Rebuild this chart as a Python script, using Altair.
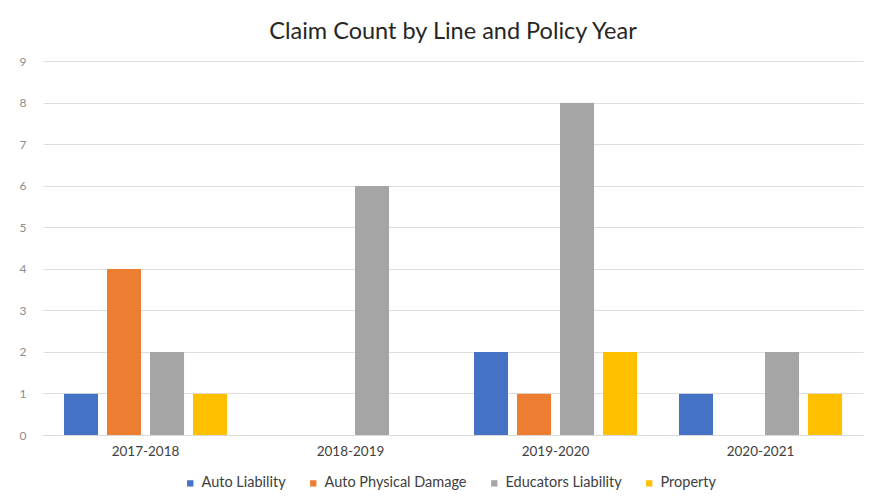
import altair as alt
import pandas as pd

years = ["2017-2018", "2018-2019", "2019-2020", "2020-2021"]
lines = ["Auto Liability", "Auto Physical Damage", "Educators Liability", "Property"]
auto_liability = [1, 0, 2, 1]
auto_physical_damage = [4, 0, 1, 0]
educators_liability = [2, 6, 8, 2]
property_ = [1, 0, 2, 1]
colors = ["#4472C4", "#ED7D31", "#A5A5A5", "#FFC000"]

series = [auto_liability, auto_physical_damage, educators_liability, property_]
rows = []
for line, vals in zip(lines, series):
    for y, v in zip(years, vals):
        rows.append({"Year": y, "Line": line, "Count": v})
df = pd.DataFrame(rows)

FONT = "Lato"

chart = alt.Chart(df).mark_bar(cornerRadius=1).encode(
    x=alt.X("Year:N", sort=years, title=None,
            scale=alt.Scale(paddingInner=0.16, paddingOuter=0.08),
            axis=alt.Axis(labelAngle=0, labelFontSize=13.5, labelColor="#404040",
                          labelFont=FONT, ticks=False, domainColor="#d9d9d9",
                          labelPadding=9, grid=False)),
    xOffset=alt.XOffset("Line:N", sort=lines,
                        scale=alt.Scale(paddingInner=0.2, paddingOuter=0.1)),
    y=alt.Y("Count:Q", title=None,
            scale=alt.Scale(domain=[0, 9], nice=False),
            axis=alt.Axis(values=list(range(10)), labelFontSize=12, labelColor="#8c8c8c",
                          labelFont=FONT, ticks=False, domain=False,
                          gridColor="#dedede", labelPadding=17)),
    color=alt.Color("Line:N", sort=lines, title=None,
                    scale=alt.Scale(domain=lines, range=colors),
                    legend=alt.Legend(orient="none", direction="horizontal",
                                      legendX=140, legendY=415,
                                      symbolType="square", symbolSize=40,
                                      labelFontSize=14.5, labelFont=FONT,
                                      labelColor="#404040", columnPadding=20,
                                      symbolOffset=0, labelOffset=4)),
).properties(
    width=820,
    height=374,
    autosize=alt.AutoSizeParams(type="none"),
    padding={"left": 35, "top": 53, "right": 1, "bottom": 60},
    background="white",
    title=alt.Title("Claim Count by Line and Policy Year", fontSize=23.5,
                    font=FONT, fontWeight="normal", color="#262626",
                    offset=12),
).configure_view(stroke=None)

chart.save("out.html", embed_options={"renderer": "svg", "actions": False})
